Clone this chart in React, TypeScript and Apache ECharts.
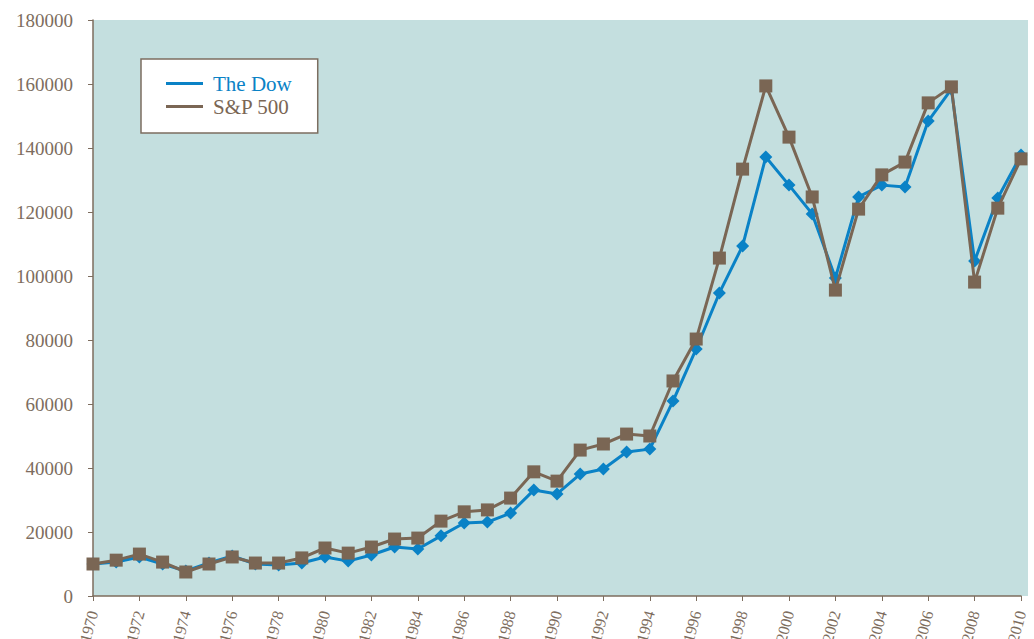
import React, { useEffect, useRef } from "react";
import * as echarts from "echarts";

const years = [1970,1971,1972,1973,1974,1975,1976,1977,1978,1979,1980,1981,1982,1983,1984,1985,1986,1987,1988,1989,1990,1991,1992,1993,1994,1995,1996,1997,1998,1999,2000,2001,2002,2003,2004,2005,2006,2007,2008,2009,2010];
const dow = [10000,10600,12200,10000,7800,10300,12500,10000,9700,10300,12200,10900,12800,15300,14700,18800,22800,23100,25900,33100,31900,38100,39700,45000,45900,60900,77200,94700,109400,137200,128400,119400,99400,124700,128400,127800,148400,158400,104700,124400,137800];
const sp500 = [10000,11200,13100,10600,7500,10000,12200,10300,10300,11900,15000,13400,15300,17800,18100,23400,26300,26900,30600,38800,35900,45600,47500,50600,50000,67200,80300,105600,133400,159400,143400,124700,95600,120900,131600,135600,154100,159100,98100,121200,136600];

const BLUE = "#0a82c6";
const BROWN = "#7a6654";
const AXIS = "#7d6d5e";
const BG = "#c4dfdf";
const FONT = "Liberation Serif";

export default function App() {
  const ref = useRef<HTMLDivElement>(null);
  useEffect(() => {
    const chart = echarts.init(ref.current!, undefined, { renderer: "svg" });
    chart.setOption({
      animation: false,
      graphic: [
        { type: "rect", shape: { x: 1021, y: 20, width: 7, height: 576 }, style: { fill: BG }, z: -10 },
      ],
      grid: { left: 93, right: 13, top: 20, bottom: 43, show: true, backgroundColor: BG, borderWidth: 0, containLabel: false, outerBoundsMode: "none" },
      legend: {
        left: 141, top: 59, orient: "vertical",
        padding: [14, 26, 16, 25],
        backgroundColor: "#ffffff", borderColor: "#7c6e60", borderWidth: 1.5, borderRadius: 0,
        icon: "rect", itemWidth: 37, itemHeight: 3, itemGap: 2,
        textStyle: { fontFamily: FONT, fontSize: 21, padding: [0, 0, 0, 5] },
        data: [
          { name: "The Dow", textStyle: { color: BLUE } },
          { name: "S&P 500", textStyle: { color: BROWN } },
        ],
      },
      xAxis: {
        type: "value", min: 1970, max: 2010, interval: 2,
        axisLine: { show: true, lineStyle: { color: AXIS, width: 1.5 } },
        axisTick: { show: true, length: 5, lineStyle: { color: AXIS } },
        splitLine: { show: false },
        axisLabel: { rotate: 75, margin: 15, color: AXIS, fontFamily: FONT, fontSize: 16, formatter: (v: number) => String(v) },
      },
      yAxis: {
        type: "value", min: 0, max: 180000, interval: 20000,
        axisLine: { show: true, lineStyle: { color: AXIS, width: 1.5 } },
        axisTick: { show: true, length: 5, lineStyle: { color: AXIS } },
        splitLine: { show: false },
        axisLabel: { margin: 20, color: AXIS, fontFamily: FONT, fontSize: 19, formatter: (v: number) => String(v) },
      },
      series: [
        {
          name: "The Dow", type: "line",
          data: years.map((y, i) => [y, dow[i]]),
          symbol: "diamond", symbolSize: 13,
          lineStyle: { color: BLUE, width: 3 }, itemStyle: { color: BLUE },
          z: 2,
        },
        {
          name: "S&P 500", type: "line",
          data: years.map((y, i) => [y, sp500[i]]),
          symbol: "rect", symbolSize: 13,
          lineStyle: { color: BROWN, width: 3 }, itemStyle: { color: BROWN },
          z: 3,
        },
      ],
    });
    return () => chart.dispose();
  }, []);
  return <div ref={ref} style={{ position: "absolute", left: 0, top: 0, width: 1034, height: 639 }} />;
}
